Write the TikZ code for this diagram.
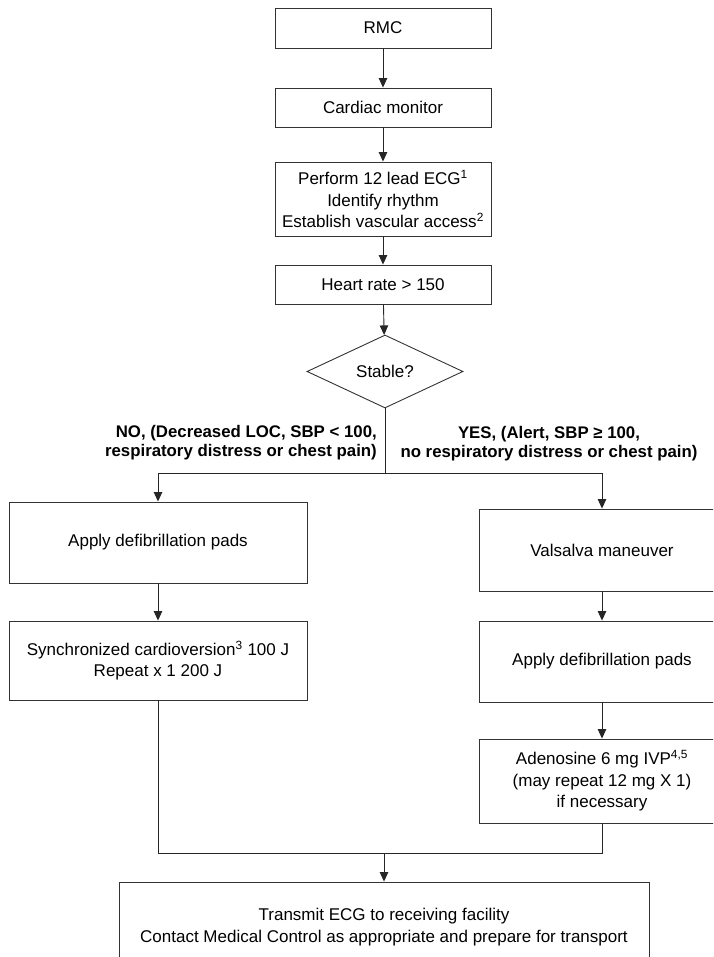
\documentclass[tikz,border=0pt]{standalone}
\usepackage{fontspec}
\setmainfont{Liberation Sans}
\usetikzlibrary{shapes.geometric,arrows.meta}

\tikzset{
  box/.style={draw=black!80, line width=0.9pt, inner sep=0pt, align=center,
    minimum width=216pt, font=\fontsize{17}{21.5}\selectfont},
  lbox/.style={box, minimum width=298pt},
  rbox/.style={box, minimum width=246pt},
  decision/.style={box, diamond, minimum width=156pt, minimum height=73pt},
  lbl/.style={inner sep=0pt, font=\bfseries\fontsize{16.8}{18.8}\selectfont},
  link/.style={draw=black!85, line width=0.9pt},
  go/.style={link, -{Triangle[width=8.5pt,length=9.5pt]}}
}

\begin{document}
\begin{tikzpicture}[x=1pt,y=-1pt]
      \useasboundingbox (0,0) rectangle (713,957);
      \clip (0,0) rectangle (713,957);
      \node [box, minimum height=40pt] (rmc) at (383,28) {RMC};
      \node [box, minimum height=39pt] (monitor) at (383,107.5) {Cardiac monitor};
      \node [box, minimum height=74pt] (ecg) at (383,199)
        {Perform 12 lead ECG\textsuperscript{1}\\Identify rhythm\\Establish vascular access\textsuperscript{2}};
      \node [box, minimum height=39pt] (rate) at (383,284.5) {Heart rate > 150};
      \node [decision] (stable) at (385,371.5) {Stable?};
      \coordinate (split) at (385,473);
      \node [lbl, anchor=east, align=right] (nolab) at (377,443)
        {NO, (Decreased LOC, SBP < 100,\\respiratory distress or chest pain)};
      \node [lbl, align=center] (yeslab) at (549,444)
        {YES, (Alert, SBP ≥ 100,\\no respiratory distress or chest pain)};
      \node [lbox, minimum height=81pt] (padsno) at (158,542.5) {Apply defibrillation pads};
      \node [lbox, minimum height=79pt] (sync) at (158,660.5)
        {Synchronized cardioversion\textsuperscript{3} 100 J\\Repeat x 1 200 J};
      \node [rbox, minimum height=82pt] (valsalva) at (602,550) {Valsalva maneuver};
      \node [rbox, minimum height=81pt] (padsyes) at (602,661.5) {Apply defibrillation pads};
      \node [rbox, minimum height=84pt] (adeno) at (602,781)
        {Adenosine 6 mg IVP\textsuperscript{4,5}\\(may repeat 12 mg X 1)\\if necessary};
      \coordinate (join) at (384,853);
      \node [box, minimum width=530pt, minimum height=90pt] (transmit) at (384,927)
        {Transmit ECG to receiving facility\\Contact Medical Control as appropriate and prepare for transport};
      \draw [go] (rmc) -- (monitor);
      \draw [go] (monitor) -- (ecg);
      \draw [go] (ecg) -- (rate);
      \draw [go] (rate) -- (stable);
      \draw [link] (stable) -- (split);
      \draw [go] (split) -| (padsno);
      \draw [go] (split) -| (valsalva);
      \draw [go] (padsno) -- (sync);
      \draw [go] (valsalva) -- (padsyes);
      \draw [go] (padsyes) -- (adeno);
      \draw [link] (sync) |- (join) -| (adeno);
      \draw [go] (join) -- (transmit);
    \end{tikzpicture}
\end{document}
